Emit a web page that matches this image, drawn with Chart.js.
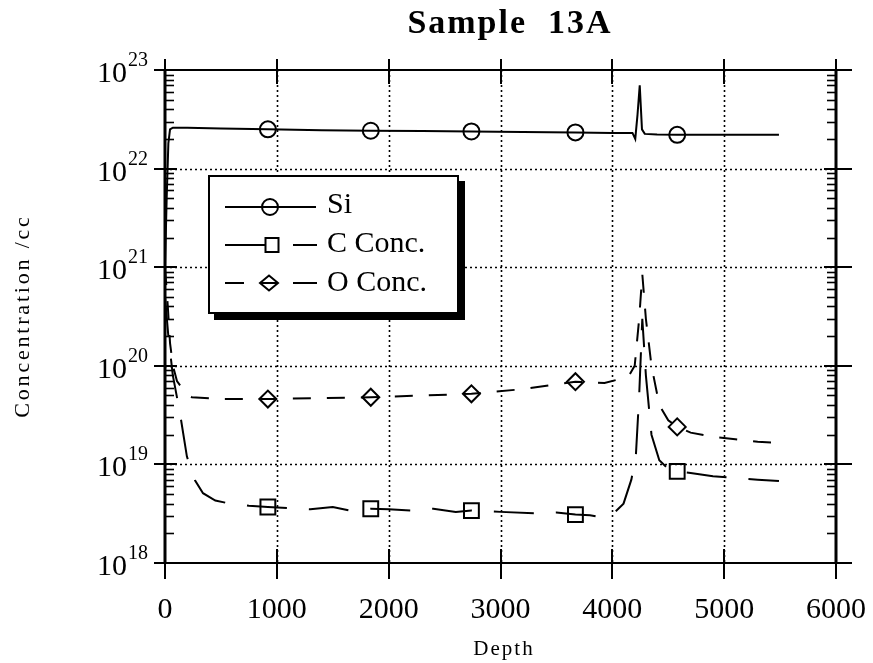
<!DOCTYPE html>
<html><head><meta charset="utf-8">
<script src="https://cdn.jsdelivr.net/npm/chart.js@4.4.1/dist/chart.umd.min.js"></script>
<style>html,body{margin:0;padding:0;background:#fff;overflow:hidden}</style>
</head><body>
<canvas id="c" width="873" height="663"></canvas>
<script>
// ---- text ----
const titleText = 'Sample  13A';
const xTitle = 'Depth';
const yTitle = 'Concentration /cc';
const legendLabels = ['Si', 'C Conc.', 'O Conc.'];
// ---- ticks ----
const xTicks = [0, 1000, 2000, 3000, 4000, 5000, 6000];
const yExponents = [18, 19, 20, 21, 22, 23];
// depths at which markers are drawn
const markerDepths = [920, 1840, 2740, 3670, 4580];
// ---- Si ----
const siDepth = [0, 15, 30, 45, 70, 200, 500, 920, 1400, 1840, 2300, 2740, 3200, 3670, 4000, 4180, 4205, 4225, 4245, 4265, 4290, 4400, 4580, 5000, 5490];
const siConc  = [1e21, 5e21, 1.8e22, 2.5e22, 2.6e22, 2.6e22, 2.55e22, 2.5e22, 2.45e22, 2.42e22, 2.4e22, 2.38e22, 2.35e22, 2.33e22, 2.3e22, 2.3e22, 2.0e22, 3.5e22, 7e22, 2.5e22, 2.25e22, 2.22e22, 2.2e22, 2.2e22, 2.2e22];
// ---- C ----
const cDepth = [0, 30, 70, 134, 196, 268, 340, 450, 580, 750, 920, 1100, 1300, 1500, 1650, 1840, 2000, 2200, 2400, 2600, 2740, 3000, 3300, 3500, 3670, 3800, 3900, 4000, 4100, 4170, 4210, 4240, 4268, 4300, 4350, 4420, 4500, 4580, 4700, 4900, 5100, 5300, 5490];
const cConc  = [5e20, 2e20, 8e19, 3.3e19, 1.2e19, 6.9e18, 5.1e18, 4.3e18, 4.0e18, 3.8e18, 3.7e18, 3.6e18, 3.5e18, 3.7e18, 3.4e18, 3.55e18, 3.5e18, 3.4e18, 3.55e18, 3.3e18, 3.4e18, 3.3e18, 3.2e18, 3.25e18, 3.1e18, 3.05e18, 2.9e18, 3.1e18, 4.0e18, 7e18, 1.2e19, 5e19, 3e20, 8e19, 2e19, 1.1e19, 9e18, 8.5e18, 8.2e18, 7.6e18, 7.3e18, 7.0e18, 6.8e18];
// ---- O ----
const oDepth = [0, 25, 45, 71, 107, 180, 240, 500, 920, 1400, 1840, 2300, 2740, 3200, 3670, 3930, 4100, 4150, 4200, 4240, 4268, 4300, 4350, 4420, 4500, 4580, 4700, 4900, 5100, 5300, 5490];
const oConc  = [1e21, 4e20, 1.7e20, 1e20, 7e19, 5.4e19, 4.8e19, 4.6e19, 4.6e19, 4.7e19, 4.8e19, 5.0e19, 5.2e19, 5.8e19, 6.9e19, 6.7e19, 7.5e19, 8e19, 1e20, 3e20, 8.5e20, 3e20, 1e20, 4e19, 2.8e19, 2.4e19, 2.1e19, 1.9e19, 1.8e19, 1.7e19, 1.65e19];

const toXY = (xs, ys) => xs.map((x, i) => ({x, y: ys[i]}));
const markerR = r => (c) => (c.raw && markerDepths.includes(c.raw.x)) ? r : 0;

const SERIF = '"Liberation Serif", "Times New Roman", serif';

function seg(ctx, x1, y1, x2, y2) { ctx.beginPath(); ctx.moveTo(x1, y1); ctx.lineTo(x2, y2); ctx.stroke(); }

const deco = {
  id: 'deco',
  beforeDatasetsDraw(chart) {
    const {ctx, chartArea: a, scales: {x, y}} = chart;
    ctx.save();
    ctx.strokeStyle = '#000';
    ctx.lineWidth = 1.6;
    ctx.setLineDash([2, 3]);
    xTicks.forEach(v => {
      if (v <= x.min || v >= x.max) return;
      const px = Math.round(x.getPixelForValue(v)) + 0.5;
      seg(ctx, px, a.top, px, a.bottom);
    });
    yExponents.forEach(e => {
      const v = Math.pow(10, e);
      if (v <= y.min || v >= y.max) return;
      const py = Math.round(y.getPixelForValue(v)) + 0.5;
      seg(ctx, a.left, py, a.right, py);
    });
    ctx.restore();
  },
  afterDatasetsDraw(chart) {
    const {ctx, chartArea: a, scales: {x, y}} = chart;
    ctx.save();
    ctx.strokeStyle = '#000';
    ctx.fillStyle = '#000';
    ctx.setLineDash([]);
    // frame
    ctx.lineWidth = 3;
    seg(ctx, a.left, a.top - 1, a.left, a.bottom + 1);
    seg(ctx, a.right, a.top - 1, a.right, a.bottom + 1);
    ctx.lineWidth = 2.2;
    seg(ctx, a.left, a.top, a.right, a.top);
    seg(ctx, a.left, a.bottom, a.right, a.bottom);
    // x major ticks (top and bottom, crossing)
    ctx.lineWidth = 2;
    xTicks.forEach(v => {
      const px = Math.round(x.getPixelForValue(v));
      seg(ctx, px, a.bottom - 14, px, a.bottom + 16);
      seg(ctx, px, a.top - 11, px, a.top + 14);
    });
    // y major ticks
    yExponents.forEach(e => {
      const py = Math.round(y.getPixelForValue(Math.pow(10, e)));
      seg(ctx, a.left - 11, py, a.left + 12, py);
      seg(ctx, a.right - 12, py, a.right + 16, py);
    });
    // y minor ticks
    ctx.lineWidth = 1.6;
    for (let e = yExponents[0]; e < yExponents[yExponents.length - 1]; e++) {
      for (let m = 2; m <= 9; m++) {
        const py = Math.round(y.getPixelForValue(m * Math.pow(10, e))) + 0.5;
        seg(ctx, a.left, py, a.left + 9, py);
        seg(ctx, a.right - 9, py, a.right, py);
      }
    }
    // x tick labels
    ctx.font = '30px ' + SERIF;
    ctx.textAlign = 'center';
    ctx.textBaseline = 'alphabetic';
    xTicks.forEach(v => {
      ctx.fillText(String(v), x.getPixelForValue(v), a.bottom + 55);
    });
    // y tick labels with superscript
    yExponents.forEach(e => {
      const py = y.getPixelForValue(Math.pow(10, e));
      ctx.font = '30px ' + SERIF;
      ctx.textAlign = 'right';
      ctx.fillText('10', a.left - 38, py + 12);
      ctx.font = '20px ' + SERIF;
      ctx.textAlign = 'left';
      ctx.fillText(String(e), a.left - 37, py - 4);
    });
    // title
    ctx.font = 'bold 34px ' + SERIF;
    ctx.textAlign = 'center';
    ctx.letterSpacing = '2px';
    ctx.fillText(titleText, 510, 33);
    // axis titles
    ctx.font = '21px ' + SERIF;
    ctx.letterSpacing = '2px';
    ctx.fillText(xTitle, 504, 655);
    ctx.save();
    ctx.translate(29, 316);
    ctx.rotate(-Math.PI / 2);
    ctx.font = '22px ' + SERIF;
    ctx.letterSpacing = '2.8px';
    ctx.fillText(yTitle, 0, 0);
    ctx.restore();
    ctx.letterSpacing = '0px';
    // legend box
    const L = 209, T = 176, R = 458, B = 313;
    ctx.fillStyle = '#fff';
    ctx.fillRect(L, T, R - L, B - T);
    ctx.fillStyle = '#000';
    ctx.fillRect(R, T + 5, 7, B - T + 2);
    ctx.fillRect(L + 5, B, R - L + 2, 7);
    ctx.lineWidth = 2;
    ctx.strokeRect(L, T, R - L, B - T);
    // legend samples
    const ys = [207, 245, 283];
    ctx.lineWidth = 2;
    // Si
    seg(ctx, 225, ys[0], 316, ys[0]);
    ctx.beginPath(); ctx.arc(270, ys[0], 8, 0, Math.PI * 2); ctx.stroke();
    // C
    seg(ctx, 225, ys[1], 265, ys[1]);
    ctx.strokeRect(265.5, ys[1] - 7, 13, 14);
    seg(ctx, 293, ys[1], 317, ys[1]);
    // O
    seg(ctx, 225, ys[2], 244, ys[2]);
    ctx.beginPath();
    ctx.moveTo(260, ys[2]); ctx.lineTo(269, ys[2] - 7.5); ctx.lineTo(278, ys[2]); ctx.lineTo(269, ys[2] + 7.5); ctx.closePath();
    ctx.stroke();
    seg(ctx, 260, ys[2], 278, ys[2]);
    seg(ctx, 293, ys[2], 317, ys[2]);
    // legend text
    ctx.font = '30px ' + SERIF;
    ctx.textAlign = 'left';
    ctx.fillStyle = '#000';
    ctx.fillText(legendLabels[0], 327, 213);
    ctx.fillText(legendLabels[1], 327, 252);
    ctx.fillText(legendLabels[2], 327, 291);
    ctx.restore();
  }
};

new Chart(document.getElementById('c'), {
  type: 'line',
  data: {
    datasets: [
      { label: legendLabels[0], data: toXY(siDepth, siConc), borderColor: '#000', borderWidth: 2,
        pointStyle: 'circle', pointRadius: markerR(8), pointBorderWidth: 2, pointBorderColor: '#000',
        pointBackgroundColor: 'rgba(0,0,0,0)', pointHoverRadius: 0, tension: 0 },
      { label: legendLabels[1], data: toXY(cDepth, cConc), borderColor: '#000', borderWidth: 2, borderDash: [40, 22],
        pointStyle: 'rect', pointRadius: markerR(10.5), pointBorderWidth: 2, pointBorderColor: '#000',
        pointBackgroundColor: 'rgba(0,0,0,0)', pointHoverRadius: 0, tension: 0 },
      { label: legendLabels[2], data: toXY(oDepth, oConc), borderColor: '#000', borderWidth: 2, borderDash: [18, 16],
        pointStyle: 'rectRot', pointRadius: markerR(8.5), pointBorderWidth: 2, pointBorderColor: '#000',
        pointBackgroundColor: 'rgba(0,0,0,0)', pointHoverRadius: 0, tension: 0 }
    ]
  },
  options: {
    responsive: false,
    animation: false,
    devicePixelRatio: 1,
    layout: { padding: { left: 165, right: 37, top: 70, bottom: 100 } },
    plugins: { legend: { display: false }, tooltip: { enabled: false }, title: { display: false } },
    scales: {
      x: { type: 'linear', min: 0, max: 6000, display: false },
      y: { type: 'logarithmic', min: 1e18, max: 1e23, display: false }
    }
  },
  plugins: [deco]
});
</script>
</body></html>
